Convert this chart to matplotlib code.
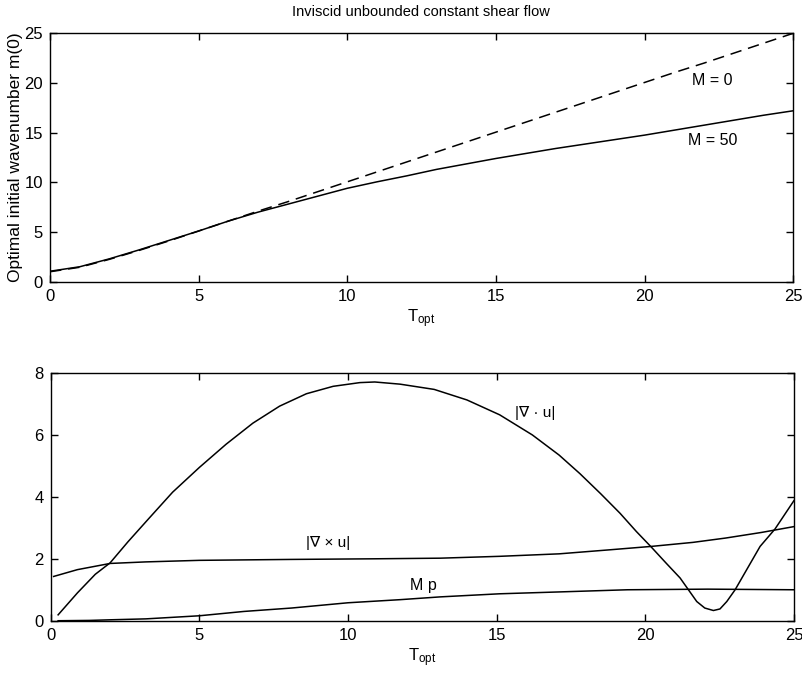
import numpy as np
import matplotlib
matplotlib.use("Agg")
import matplotlib.pyplot as plt

plt.rcParams['font.family'] = ['Liberation Sans', 'DejaVu Sans']
plt.rcParams['mathtext.default'] = 'regular'

# top panel: optimal initial wavenumber vs T_opt
t_top = [0, 1, 2, 3, 4, 5, 6, 7, 8, 9, 10, 11, 12, 13, 14, 15, 16, 17, 18, 19, 20,
         21, 22, 23, 24, 25]
m_M0 = [1.0, 1.45, 2.25, 3.15, 4.1, 5.1, 6.1, 7.1, 8.05, 9.05, 10.05, 11.05, 12.05,
        13.05, 14.05, 15.05, 16.05, 17.05, 18.05, 19.05, 20.05, 21.05, 22.0, 23.0,
        24.0, 25.0]
m_M50 = [1.05, 1.5, 2.3, 3.2, 4.15, 5.1, 6.1, 7.0, 7.8, 8.6, 9.4, 10.05, 10.65, 11.3,
         11.85, 12.4, 12.9, 13.4, 13.85, 14.3, 14.75, 15.25, 15.75, 16.25, 16.75, 17.2]

# bottom panel
t_div = [0.25, 0.9, 1.5, 2.0, 2.6, 3.3, 4.1, 5.0, 5.9, 6.8, 7.7, 8.6, 9.5, 10.4, 10.9,
         11.75, 12.9, 14.0, 15.1, 16.2, 17.1, 17.8, 18.5, 19.15, 19.7, 20.2, 20.7,
         21.17, 21.45, 21.73, 22.0, 22.29, 22.51, 22.74, 23.02, 23.41, 23.86, 24.36, 25.0]
div_u = [0.19, 0.9, 1.5, 1.87, 2.55, 3.3, 4.15, 4.95, 5.7, 6.38, 6.93, 7.33, 7.57, 7.69,
         7.71, 7.64, 7.47, 7.13, 6.65, 6.0, 5.35, 4.75, 4.1, 3.47, 2.88, 2.38, 1.86,
         1.38, 1.0, 0.62, 0.41, 0.33, 0.38, 0.62, 1.0, 1.65, 2.4, 2.96, 3.88]

t_curl = [0.1, 0.9, 2.0, 3.2, 5.0, 8.1, 10.9, 13.1, 15.1, 17.1, 18.8, 20.2, 21.6, 22.7,
          23.9, 25.0]
curl_u = [1.43, 1.65, 1.85, 1.9, 1.95, 1.98, 2.0, 2.02, 2.08, 2.16, 2.29, 2.4, 2.53,
          2.67, 2.85, 3.04]

t_mp = [0.25, 1.3, 2.0, 3.2, 5.0, 6.5, 8.1, 10.0, 11.75, 13.1, 15.1, 17.1, 19.4, 22.1, 25.0]
mp = [0.0, 0.01, 0.03, 0.06, 0.16, 0.3, 0.41, 0.58, 0.68, 0.77, 0.87, 0.93, 1.0, 1.02, 1.0]

fig = plt.figure(figsize=(8.02, 6.75), dpi=100)
ax1 = fig.add_axes([0.0623, 0.5827, 0.9268, 0.368])
ax2 = fig.add_axes([0.0632, 0.0804, 0.9268, 0.367])

lw = 1.1
ax1.plot(t_top, m_M0, color='black', lw=lw, dashes=(7.5, 4.5))
ax1.plot(t_top, m_M50, color='black', lw=lw)
ax1.set_xlim(0, 25)
ax1.set_ylim(0, 25)
ax1.set_xticks([0, 5, 10, 15, 20, 25])
ax1.set_yticks([0, 5, 10, 15, 20, 25])
ax1.text(22.27, 20.2, 'M = 0', ha='center', va='center', fontsize=11.5)
ax1.text(22.3, 14.2, 'M = 50', ha='center', va='center', fontsize=11.5)
ax1.set_ylabel('Optimal initial wavenumber m(0)', fontsize=12.5, labelpad=1)
ax1.set_xlabel('$T_{opt}$', fontsize=12, labelpad=3)

ax2.plot(t_div, div_u, color='black', lw=lw)
ax2.plot(t_curl, curl_u, color='black', lw=lw)
ax2.plot(t_mp, mp, color='black', lw=lw)
ax2.set_xlim(0, 25)
ax2.set_ylim(0, 8)
ax2.set_xticks([0, 5, 10, 15, 20, 25])
ax2.set_yticks([0, 2, 4, 6, 8])
ax2.text(16.29, 6.7, '|∇ · u|', ha='center', va='center', fontsize=11)
ax2.text(9.33, 2.5, '|∇ × u|', ha='center', va='center', fontsize=11)
ax2.text(12.52, 1.15, 'M p', ha='center', va='center', fontsize=11.5)
ax2.set_xlabel('$T_{opt}$', fontsize=12, labelpad=3)

for ax in (ax1, ax2):
    ax.tick_params(direction='in', top=True, right=True, length=5, width=1,
                   labelsize=12, pad=5)
    for sp in ax.spines.values():
        sp.set_linewidth(1.0)

fig.text(0.525, 1 - 12 / 675, 'Inviscid unbounded constant shear flow',
         ha='center', va='center', fontsize=10.5)

fig.savefig('out.png', dpi=100)
